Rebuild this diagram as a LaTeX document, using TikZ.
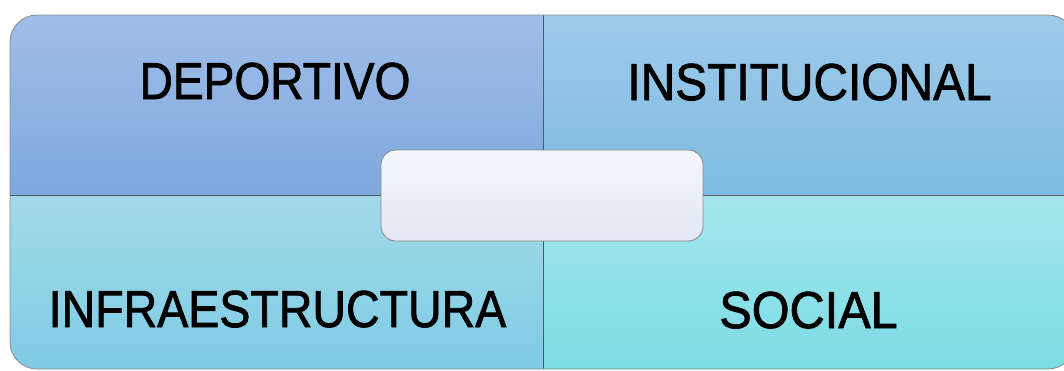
\documentclass[tikz,border=0pt]{standalone}
\usepackage{fontspec}
\setmainfont{Liberation Sans}
\newfontfamily\labelfont[FakeBold=1.6]{Liberation Sans}
\usepackage{graphicx}
\definecolor{tlA}{HTML}{9FBEE8}
\definecolor{tlB}{HTML}{7FA8DE}
\definecolor{trA}{HTML}{9FCAE9}
\definecolor{trB}{HTML}{7DBBE3}
\definecolor{blA}{HTML}{A2DAE9}
\definecolor{blB}{HTML}{7ECBE4}
\definecolor{brA}{HTML}{A5E6EB}
\definecolor{brB}{HTML}{7CDCE6}
\definecolor{cA}{HTML}{F4F6FB}
\definecolor{cB}{HTML}{E1E8F3}
\definecolor{edge}{HTML}{8A8A8A}
\definecolor{divider}{HTML}{4F5A66}
\tikzset{
  label/.style={font=\labelfont\fontsize{52}{52}\selectfont, text=black, inner sep=0pt, anchor=base},
  centerbox/.style={draw=edge, line width=0.8pt, rounded corners=15pt, top color=cA, bottom color=cB, minimum width=322pt, minimum height=91pt, inner sep=0pt}
}
\begin{document}
\begin{tikzpicture}[x=1pt,y=-1pt]
\useasboundingbox (0,0) rectangle (1064,370);
\coordinate (tl) at (10,15);
\coordinate (br) at (1075,369);
\coordinate (vt) at (543,15);
\coordinate (vb) at (543,369);
\coordinate (hl) at (10,195);
\coordinate (hr) at (1075,195);
\begin{scope}
  \clip[rounded corners=27pt] (tl) rectangle (br);
  \shade[top color=tlA, bottom color=tlB] (10,15) rectangle (543,195);
  \shade[top color=trA, bottom color=trB] (543,15) rectangle (1075,195);
  \shade[top color=blA, bottom color=blB] (10,195) rectangle (543,369);
  \shade[top color=brA, bottom color=brB] (543,195) rectangle (1075,369);
  \draw[divider, line width=0.8pt] (vt) -- (vb);
  \draw[divider, line width=0.8pt] (hl) -- (hr);
\end{scope}
\draw[edge, line width=0.8pt, rounded corners=27pt] (tl) rectangle (br);
\node[centerbox] (center) at (542,195.5) {};
\node[label] (dep) at (275,99) {\scalebox{0.887}[1]{DEPORTIVO}};
\node[label] (inst) at (809.5,100) {\scalebox{0.92}[1]{INSTITUCIONAL}};
\node[label] (infra) at (277.5,327) {\scalebox{0.895}[1]{INFRAESTRUCTURA}};
\node[label] (soc) at (808.5,328) {\scalebox{0.935}[1]{SOCIAL}};
\end{tikzpicture}
\end{document}
